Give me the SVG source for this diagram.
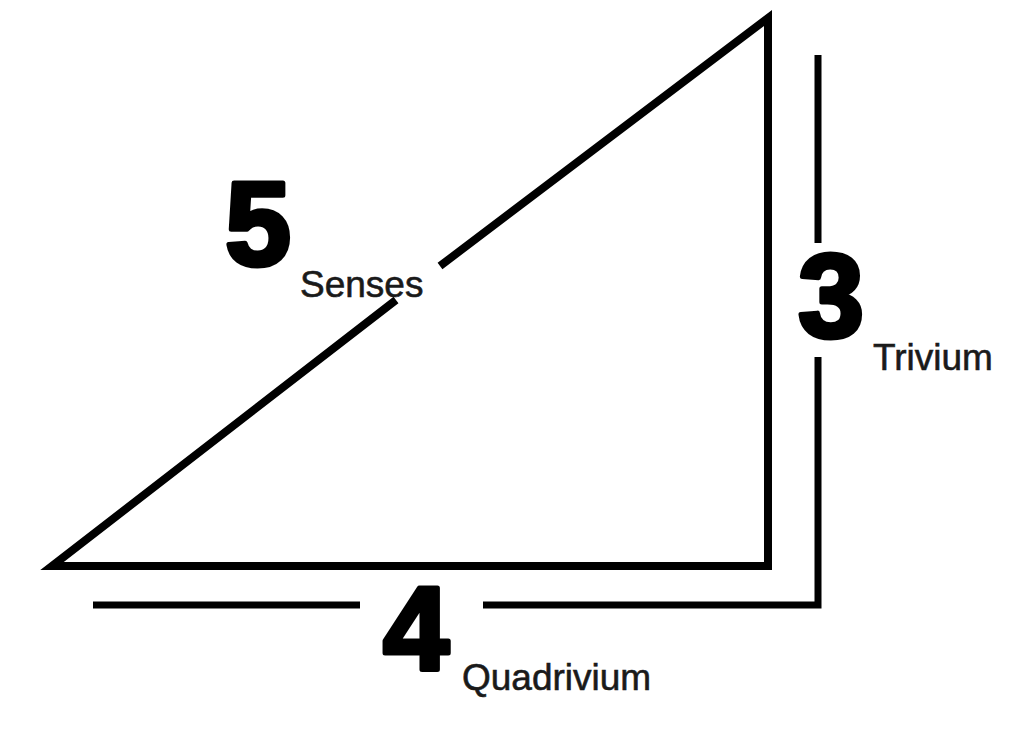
<svg xmlns="http://www.w3.org/2000/svg" width="1033" height="738" viewBox="0 0 1033 738">
  <style>
    .shape { fill: none; stroke: #000; stroke-width: 8; stroke-linejoin: miter; stroke-linecap: butt; }
    .dim { fill: none; stroke: #000; stroke-width: 7; stroke-linejoin: miter; stroke-linecap: butt; }
    .num { font-family: "Liberation Sans", Arial, sans-serif; font-weight: bold; font-size: 118px; fill: #000; stroke: #000; stroke-width: 5; stroke-linejoin: round; text-anchor: middle; }
    .lbl { font-family: "Liberation Sans", Arial, sans-serif; font-size: 37px; fill: #1a1a1a; stroke: #1a1a1a; stroke-width: 0.6; }
  </style>
  <rect width="1033" height="738" fill="#fff"/>
  <g id="triangle">
    <polyline class="shape" points="396,300 52,566 768,566 768,18 440,266"/>
  </g>
  <g id="connectors">
    <polyline class="dim" points="818,55 818,243"/>
    <polyline class="dim" points="818,357 818,605 483,605"/>
    <polyline class="dim" points="360,605 93,605"/>
  </g>
  <g id="senses">
    <text class="num" x="258" y="265">5</text>
    <text class="lbl" x="300" y="297">Senses</text>
  </g>
  <g id="trivium">
    <text class="num" x="831" y="337">3</text>
    <text class="lbl" x="873" y="370">Trivium</text>
  </g>
  <g id="quadrivium">
    <text class="num" x="416" y="670">4</text>
    <text class="lbl" x="462" y="690">Quadrivium</text>
  </g>
</svg>
